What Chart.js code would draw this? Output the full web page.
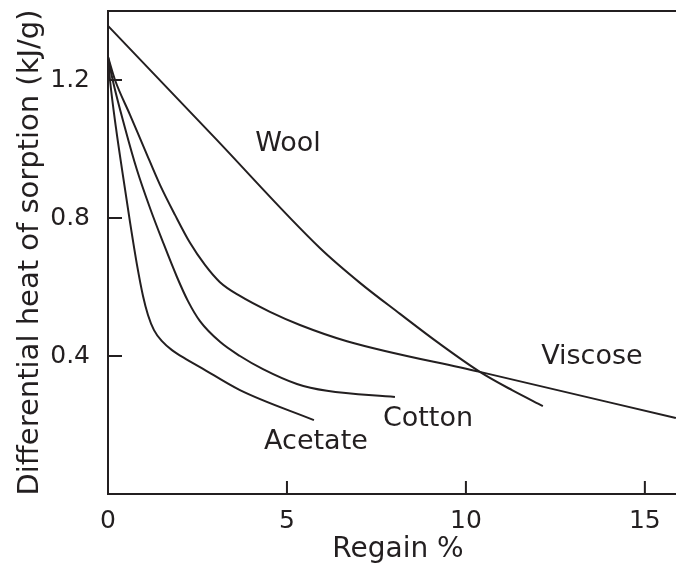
<!DOCTYPE html>
<html>
<head>
<meta charset="utf-8">
<script src="https://cdn.jsdelivr.net/npm/chart.js@4/dist/chart.umd.min.js"></script>
<style>
  html, body { margin: 0; padding: 0; background: #fff; }
  #wrap { width: 676px; height: 569px; }
</style>
</head>
<body>
<div id="wrap"><canvas id="heat" width="676" height="569"></canvas></div>
<script>
// Differential heat of sorption vs regain, one curve per fibre
const woolPts = [[0, 1.357], [2.96, 1.035], [5.92, 0.713], [7.04, 0.612], [8.16, 0.522], [9.27, 0.435], [10.39, 0.354], [11.29, 0.301], [12.15, 0.255]];
const viscosePts = [[0, 1.267], [0.196, 1.2], [0.615, 1.099], [1.034, 0.997], [1.453, 0.896], [1.872, 0.809], [2.291, 0.728], [2.709, 0.664], [3.128, 0.614], [3.687, 0.574], [4.525, 0.528], [5.363, 0.49], [6.676, 0.443], [10.391, 0.354], [15.866, 0.22]];
const cottonPts = [[0, 1.267], [0.131, 1.2], [0.475, 1.061], [0.81, 0.939], [1.173, 0.829], [1.536, 0.73], [1.927, 0.629], [2.235, 0.559], [2.57, 0.501], [3.128, 0.441], [3.687, 0.4], [4.33, 0.362], [5.279, 0.319], [6.117, 0.299], [8.017, 0.281]];
const acetatePts = [[0, 1.267], [0.056, 1.2], [0.223, 1.061], [0.419, 0.922], [0.615, 0.788], [0.81, 0.664], [0.978, 0.574], [1.117, 0.519], [1.285, 0.475], [1.508, 0.443], [1.788, 0.417], [2.179, 0.391], [2.57, 0.368], [3.687, 0.301], [5.754, 0.214]];

const fibreNames = ['Wool', 'Viscose', 'Cotton', 'Acetate'];
const labelAt = [[5.03, 1.014], [13.52, 0.397], [8.94, 0.217], [5.81, 0.151]];

const xTicks = [0, 5, 10, 15];
const yTicks = [0.4, 0.8, 1.2];

const ink = '#231f20';
const font = 'DejaVu Sans';

const toXY = pts => pts.map(p => ({ x: p[0], y: p[1] }));

const curve = (name, pts) => ({
  label: name,
  data: toXY(pts),
  borderColor: ink,
  borderWidth: 2,
  pointRadius: 0,
  fill: false,
  cubicInterpolationMode: 'monotone'
});

// inward tick marks, top rule and curve names
const decorations = {
  id: 'decorations',
  afterDatasetsDraw(chart) {
    const { ctx, chartArea: a, scales: { x, y } } = chart;
    ctx.save();
    ctx.strokeStyle = ink;
    ctx.lineWidth = 2;
    ctx.beginPath();
    xTicks.forEach(v => {
      const px = x.getPixelForValue(v);
      ctx.moveTo(px, a.bottom);
      ctx.lineTo(px, a.bottom - 13);
    });
    yTicks.forEach(v => {
      const py = y.getPixelForValue(v);
      ctx.moveTo(a.left, py);
      ctx.lineTo(a.left + 14, py);
    });
    ctx.moveTo(a.left - 1, a.top);
    ctx.lineTo(a.right, a.top);
    ctx.stroke();

    ctx.fillStyle = ink;
    ctx.font = '27px "' + font + '"';
    ctx.textAlign = 'center';
    ctx.textBaseline = 'middle';
    fibreNames.forEach((n, i) => {
      ctx.fillText(n, x.getPixelForValue(labelAt[i][0]), y.getPixelForValue(labelAt[i][1]));
    });

    // axis title drawn here so it can sit a little right of centre
    ctx.font = '28px "' + font + '"';
    ctx.fillText('Regain %', (a.left + a.right) / 2 + 6, 550);
    ctx.restore();
  }
};

new Chart(document.getElementById('heat'), {
  type: 'line',
  data: {
    datasets: [
      curve('Wool', woolPts),
      curve('Viscose', viscosePts),
      curve('Cotton', cottonPts),
      curve('Acetate', acetatePts)
    ]
  },
  options: {
    responsive: false,
    animation: false,
    layout: { padding: { top: 11, right: 0, left: 0, bottom: 0 } },
    plugins: {
      legend: { display: false },
      tooltip: { enabled: false }
    },
    scales: {
      x: {
        type: 'linear',
        min: 0,
        max: 15.87,
        afterFit: s => { s.height = 75; s.paddingLeft = 0; s.paddingRight = 0; },
        afterBuildTicks: s => { s.ticks = xTicks.map(v => ({ value: v })); },
        grid: { drawOnChartArea: false, drawTicks: false },
        border: { color: ink, width: 2 },
        ticks: { color: ink, padding: 12, maxRotation: 0, font: { family: font, size: 25 } },
        title: { display: false }
      },
      y: {
        type: 'linear',
        min: 0,
        max: 1.4,
        afterFit: s => { s.width = 108; s.paddingTop = 0; s.paddingBottom = 0; },
        afterBuildTicks: s => { s.ticks = yTicks.map(v => ({ value: v })); },
        grid: { drawOnChartArea: false, drawTicks: false },
        border: { color: ink, width: 2 },
        ticks: { color: ink, padding: 18, callback: v => v.toFixed(1), font: { family: font, size: 25 } },
        title: { display: true, text: 'Differential heat of sorption (kJ/g)', color: ink, padding: { top: 13, bottom: 0 }, font: { family: font, size: 29 } }
      }
    }
  },
  plugins: [decorations]
});
</script>
</body>
</html>
